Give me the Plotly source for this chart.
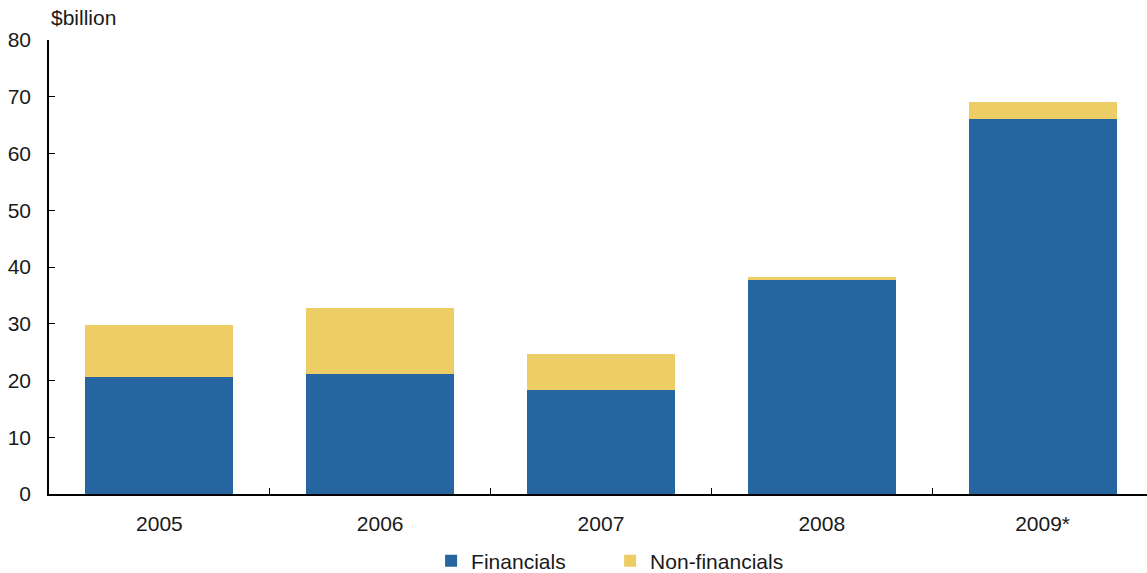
import plotly.graph_objects as go

# Annual issuance by sector, $billion
years = ["2005", "2006", "2007", "2008", "2009*"]
financials = [20.6, 21.2, 18.3, 37.7, 66.1]
non_financials = [9.2, 11.6, 6.3, 0.5, 3.0]
y_ticks = [0, 10, 20, 30, 40, 50, 60, 70, 80]

BLUE = "#26659f"
YELLOW = "#edce66"
FONT = "Liberation Sans, Arial, sans-serif"

fig = go.Figure()
fig.add_trace(go.Bar(name="Financials", x=years, y=financials,
                     marker=dict(color=BLUE, line=dict(width=0))))
fig.add_trace(go.Bar(name="Non-financials", x=years, y=non_financials,
                     marker=dict(color=YELLOW, line=dict(width=0))))

fig.update_layout(
    width=1147, height=573,
    barmode="stack", bargap=0.33,
    plot_bgcolor="white", paper_bgcolor="white",
    margin=dict(l=49, r=0, t=40, b=79, autoexpand=False),
    font=dict(family=FONT, size=21, color="#1a1a1a"),
    showlegend=True,
    legend=dict(orientation="h", x=0.348, xanchor="left", y=-0.148, yanchor="middle",
                font=dict(size=21), itemwidth=30, entrywidth=134,
                traceorder="normal"),
    annotations=[dict(text="$billion", xref="paper", yref="paper", x=0, y=1,
                      xanchor="left", yanchor="bottom", yshift=9, showarrow=False,
                      font=dict(size=21))],
)
# the last category runs slightly past the right edge of the page
fig.update_xaxes(range=[-0.5, 4.473], showline=True, linecolor="black", linewidth=1.5,
                 ticks="inside", tickson="boundaries", ticklen=6,
                 tickcolor="black", showgrid=False, ticklabelstandoff=10)
fig.update_yaxes(range=[0, 80], tickvals=y_ticks, showline=True, linecolor="black",
                 linewidth=1.5, ticks="inside", ticklen=6, tickcolor="black",
                 showgrid=False, zeroline=False, ticklabelstandoff=12)

fig.write_html("out.html")
